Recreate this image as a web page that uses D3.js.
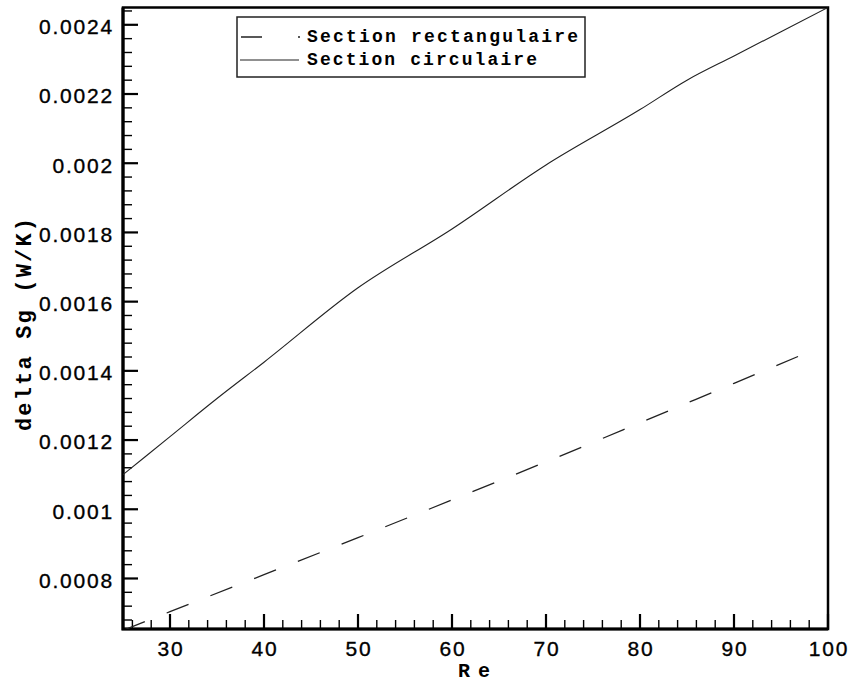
<!DOCTYPE html>
<html>
<head>
<meta charset="utf-8">
<script src="https://cdn.jsdelivr.net/npm/d3@7"></script>
<style>
  body { margin: 0; background: #fff; }
  svg { display: block; }
</style>
</head>
<body>
<script>
// values
const reValues = [25, 30, 35, 40, 50, 60, 70, 80, 85, 90, 100]
const circulaire = [0.0011, 0.00121, 0.00132, 0.001425, 0.00164, 0.00181, 0.001995, 0.002155, 0.00224, 0.00231, 0.00245]

const reRect = [25, 30, 40, 50, 60, 70, 80, 90, 98]
const rectangulaire = [0.00065, 0.000704, 0.000811, 0.000918, 0.001027, 0.001137, 0.00125, 0.001364, 0.001455]

const xMajorTicks = [30, 40, 50, 60, 70, 80, 90, 100]
const yMajorTicks = [0.0008, 0.001, 0.0012, 0.0014, 0.0016, 0.0018, 0.002, 0.0022, 0.0024]
const yTickLabels = ["0.0008", "0.001", "0.0012", "0.0014", "0.0016", "0.0018", "0.002", "0.0022", "0.0024"]

const legendLabels = ["Section rectangulaire", "Section circulaire"]

const w = 853
const h = 685
const plotLeft = 123, plotRight = 828, plotTop = 7.5, plotBottom = 629

const svg = d3.select("body")
  .append("svg")
  .attr("width", w)
  .attr("height", h)

const x = d3.scaleLinear().domain([25, 100]).range([plotLeft, plotRight])
const y = d3.scaleLinear().domain([0.000654, 0.00245]).range([plotBottom, plotTop])

// minor ticks every 2 on x, every 0.00004 on y
const xMinor = [26, 28, 32, 34, 36, 38, 42, 44, 46, 48, 52, 54, 56, 58, 62, 64, 66, 68,
  72, 74, 76, 78, 82, 84, 86, 88, 92, 94, 96, 98]
const yMinor = [17, 18, 19, 21, 22, 23, 24, 26, 27, 28, 29, 31, 32, 33, 34, 36, 37, 38, 39,
  41, 42, 43, 44, 46, 47, 48, 49, 51, 52, 53, 54, 56, 57, 58, 59, 61].map(v => v * 0.00004)

// clip for the curves
svg.append("clipPath")
  .attr("id", "plot")
  .append("rect")
  .attr("x", plotLeft)
  .attr("y", plotTop)
  .attr("width", plotRight - plotLeft)
  .attr("height", plotBottom - plotTop)

// frame
svg.append("rect")
  .attr("x", plotLeft)
  .attr("y", plotTop)
  .attr("width", plotRight - plotLeft)
  .attr("height", plotBottom - plotTop)
  .attr("fill", "none")
  .attr("stroke", "#000")
  .attr("stroke-width", 2.5)

// left and bottom lines a little heavier
svg.append("path")
  .attr("d", "M" + plotLeft + "," + plotTop + "V" + plotBottom + "H" + plotRight)
  .attr("fill", "none")
  .attr("stroke", "#000")
  .attr("stroke-width", 3.2)

// ticks pointing inside, as small filled rects
const tickGroup = svg.append("g").attr("class", "ticks")

tickGroup.selectAll("rect.xmaj")
  .data(xMajorTicks)
  .enter()
  .append("rect")
  .attr("class", "xmaj")
  .attr("x", d => x(d) - 1.1)
  .attr("y", plotBottom - 15)
  .attr("width", 2.2)
  .attr("height", 15)
  .attr("fill", "#000")

tickGroup.selectAll("rect.xmin")
  .data(xMinor)
  .enter()
  .append("rect")
  .attr("class", "xmin")
  .attr("x", d => x(d) - 0.7)
  .attr("y", plotBottom - 9)
  .attr("width", 1.4)
  .attr("height", 9)
  .attr("fill", "#000")

tickGroup.selectAll("rect.ymaj")
  .data(yMajorTicks)
  .enter()
  .append("rect")
  .attr("class", "ymaj")
  .attr("x", plotLeft)
  .attr("y", d => y(d) - 1.1)
  .attr("width", 15)
  .attr("height", 2.2)
  .attr("fill", "#000")

tickGroup.selectAll("rect.ymin")
  .data(yMinor)
  .enter()
  .append("rect")
  .attr("class", "ymin")
  .attr("x", plotLeft)
  .attr("y", d => y(d) - 0.7)
  .attr("width", 9)
  .attr("height", 1.4)
  .attr("fill", "#000")

// tick labels
svg.append("g")
  .selectAll("text")
  .data(xMajorTicks)
  .enter()
  .append("text")
  .attr("x", d => x(d) + 1)
  .attr("y", 656)
  .attr("text-anchor", "middle")
  .attr("font-family", "Liberation Sans, Arial, sans-serif")
  .attr("font-size", 21)
  .attr("letter-spacing", "1.8px")
  .attr("stroke", "#000")
  .attr("stroke-width", 0.35)
  .text(d => d)

svg.append("g")
  .selectAll("text")
  .data(yMajorTicks)
  .enter()
  .append("text")
  .attr("x", 114)
  .attr("y", d => y(d) + 9.3)
  .attr("text-anchor", "end")
  .attr("font-family", "Liberation Sans, Arial, sans-serif")
  .attr("font-size", 21)
  .attr("letter-spacing", "1.8px")
  .attr("stroke", "#000")
  .attr("stroke-width", 0.35)
  .text((d, i) => yTickLabels[i])

// axis titles
svg.append("text")
  .attr("x", 458)
  .attr("y", 677)
  .attr("font-family", "Liberation Mono, Courier New, monospace")
  .attr("font-weight", "bold")
  .attr("font-size", 20)
  .attr("textLength", 32)
  .attr("lengthAdjust", "spacing")
  .text("Re")

svg.append("text")
  .attr("transform", "translate(31,431) rotate(-90)")
  .attr("font-family", "Liberation Mono, Courier New, monospace")
  .attr("font-weight", "bold")
  .attr("font-size", 22)
  .attr("textLength", 213)
  .attr("lengthAdjust", "spacing")
  .text("delta Sg (W/K)")

// curves
const line = (xs, ys) => d3.line()
  .x((d, i) => x(xs[i]))
  .y(d => y(d))
  .curve(d3.curveMonotoneX)(ys)

svg.append("path")
  .attr("d", line(reValues, circulaire))
  .attr("clip-path", "url(#plot)")
  .attr("fill", "none")
  .attr("stroke", "#222")
  .attr("stroke-width", 1.1)

svg.append("path")
  .attr("d", line(reRect, rectangulaire))
  .attr("clip-path", "url(#plot)")
  .attr("fill", "none")
  .attr("stroke", "#222")
  .attr("stroke-width", 1.3)
  .attr("stroke-dasharray", "23.5,23.5")

// legend
const legend = svg.append("g").attr("id", "legend")

legend.append("rect")
  .attr("x", 237)
  .attr("y", 17)
  .attr("width", 348)
  .attr("height", 60)
  .attr("fill", "#fff")
  .attr("stroke", "#222")
  .attr("stroke-width", 1.5)

legend.append("line")
  .attr("x1", 241).attr("x2", 301)
  .attr("y1", 37).attr("y2", 37)
  .attr("stroke", "#222")
  .attr("stroke-width", 1.3)
  .attr("stroke-dasharray", "21,36,2")

legend.append("line")
  .attr("x1", 240).attr("x2", 299)
  .attr("y1", 60).attr("y2", 60)
  .attr("stroke", "#222")
  .attr("stroke-width", 1.1)

legend.selectAll("text")
  .data(legendLabels)
  .enter()
  .append("text")
  .attr("x", 307)
  .attr("y", (d, i) => 42 + i * 23)
  .attr("font-family", "Liberation Mono, Courier New, monospace")
  .attr("font-weight", "bold")
  .attr("font-size", 18)
  .attr("textLength", (d, i) => i === 0 ? 271 : 230)
  .attr("lengthAdjust", "spacing")
  .text(d => d)
</script>
</body>
</html>
